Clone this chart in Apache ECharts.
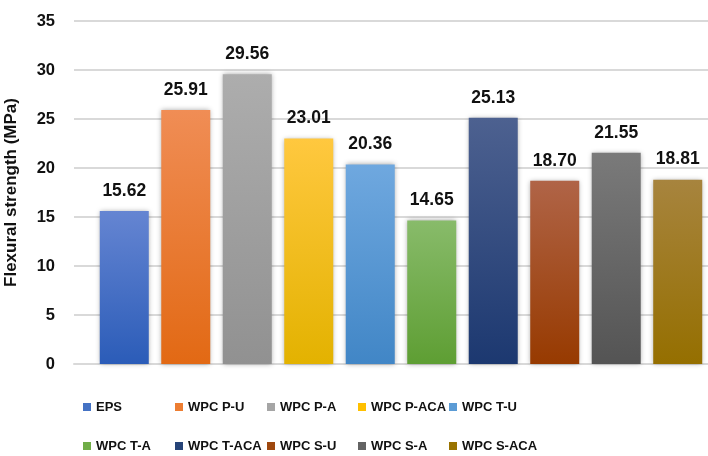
<!DOCTYPE html>
<html>
<head>
<meta charset="utf-8">
<script src="https://cdn.jsdelivr.net/npm/echarts@6/dist/echarts.min.js"></script>
<style>
html,body{margin:0;padding:0;background:#fff;}
#chart{width:708px;height:456px;}
</style>
</head>
<body>
<div id="chart"></div>
<script>
const seriesNames = ['EPS','WPC P-U','WPC P-A','WPC P-ACA','WPC T-U','WPC T-A','WPC T-ACA','WPC S-U','WPC S-A','WPC S-ACA'];
const values = [15.62, 25.91, 29.56, 23.01, 20.36, 14.65, 25.13, 18.70, 21.55, 18.81];
const yTicks = [0, 5, 10, 15, 20, 25, 30, 35];
const yTitle = 'Flexural strength (MPa)';

const topColors = ['#6585D2','#F08D55','#ADADAD','#FFC83F','#6FA8DF','#88BB6A','#4D6190','#B06447','#7A7A7A','#A7843E'];
const bottomColors = ['#2B5CB8','#E26914','#919191','#E3B200','#4186C6','#5E9E33','#1C3870','#973A00','#545454','#956F00'];
const solidColors = ['#4472C4','#ED7D31','#A5A5A5','#FFC000','#5B9BD5','#70AD47','#264478','#9E480E','#636363','#997300'];

const FONT = "'Liberation Sans', Arial, sans-serif";

const chart = echarts.init(document.getElementById('chart'));

const series = seriesNames.map((name, i) => ({
  name: name,
  type: 'bar',
  data: [values[i]],
  barWidth: 49,
  barGap: '25.5%',
  itemStyle: {
    color: new echarts.graphic.LinearGradient(0, 0, 0, 1, [
      {offset: 0, color: topColors[i]},
      {offset: 1, color: bottomColors[i]}
    ]),
    shadowBlur: 5,
    shadowColor: 'rgba(0,0,0,0.35)'
  },
  label: {
    show: true,
    position: 'top',
    distance: 11,
    fontFamily: FONT,
    fontWeight: 'bold',
    fontSize: 17.5,
    color: '#111',
    formatter: p => p.value.toFixed(2)
  },
  emphasis: {disabled: true}
}));

const colLeft = [83, 175, 267, 358, 449];
const legends = colLeft.map((x, c) => ({
  orient: 'vertical',
  left: x,
  top: 399,
  padding: 0,
  itemWidth: 8,
  itemHeight: 8,
  itemGap: 23,
  icon: 'rect',
  selectedMode: false,
  textStyle: {fontFamily: FONT, fontWeight: 'bold', fontSize: 13, color: '#111', lineHeight: 16},
  data: [c, c + 5].map(k => ({name: seriesNames[k], itemStyle: {color: solidColors[k]}}))
}));

chart.setOption({
  animation: false,
  backgroundColor: '#fff',
  grid: {left: 74, right: -20, top: 21, bottom: 92, containLabel: false, outerBoundsMode: 'none'},
  legend: legends,
  xAxis: {
    type: 'category',
    data: [''],
    axisLine: {show: true, lineStyle: {color: '#d9d9d9', width: 2}},
    axisTick: {show: false},
    axisLabel: {show: false}
  },
  yAxis: {
    type: 'value',
    min: yTicks[0],
    max: yTicks[yTicks.length - 1],
    interval: 5,
    name: yTitle,
    nameLocation: 'middle',
    nameGap: 54,
    nameTextStyle: {fontFamily: FONT, fontWeight: 'bold', fontSize: 17, color: '#111'},
    axisLine: {show: false},
    axisTick: {show: false},
    axisLabel: {fontFamily: FONT, fontWeight: 'bold', fontSize: 16.5, color: '#111', margin: 19},
    splitLine: {lineStyle: {color: '#d9d9d9', width: 2}}
  },
  series: series
});
</script>
</body>
</html>
